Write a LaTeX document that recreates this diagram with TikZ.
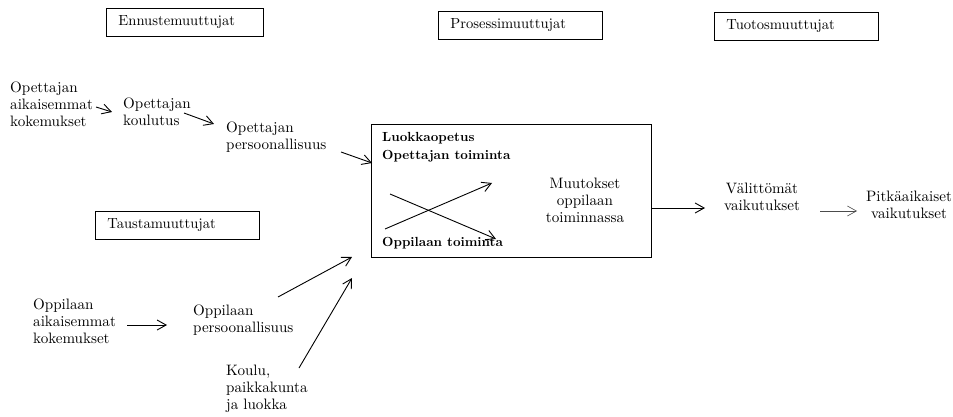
\documentclass[tikz,border=0pt]{standalone}
\usepackage{fontspec}
\setmainfont{lmroman10-regular.otf}[BoldFont=lmroman10-bold.otf]
\usetikzlibrary{arrows.meta}
\begin{document}
\begin{tikzpicture}[x=1pt,y=-1pt,
  txt/.style={inner sep=0pt, font=\fontsize{15.1}{17}\selectfont, align=left},
  ctxt/.style={txt, align=center},
  boldtxt/.style={inner sep=0pt, align=left, font=\fontsize{13.2}{18}\selectfont\bfseries},
  hdr/.style={draw, line width=0.9pt, minimum height=28pt, inner xsep=12pt, inner ysep=0pt,
    align=left, anchor=north west, font=\fontsize{14.6}{17}\selectfont},
  arr/.style={line width=0.9pt, -{Straight Barb[length=9pt,width=10pt]}},
  thinarr/.style={arr, line width=0.6pt, draw=black!70},
]
\useasboundingbox (0,0) rectangle (953,417);

% group headings
\node[hdr, text width=133pt] (ennuste) at (106,8) {Ennustemuuttujat};
\node[hdr, text width=140pt] (prosessi) at (438,11) {Prosessimuuttujat};
\node[hdr, text width=140pt] (tuotos) at (714,12) {Tuotosmuuttujat};
\node[hdr, text width=140pt] (tausta) at (95,211) {Taustamuuttujat};

% teacher chain
\node[txt, anchor=west] (opaik) at (10,104) {Opettajan\\aikaisemmat\\kokemukset};
\node[txt, anchor=west] (opkoul) at (123,112) {Opettajan\\koulutus};
\node[txt, anchor=west] (oppers) at (226,137) {Opettajan\\persoonallisuus};

% classroom process box
\node[draw, line width=0.9pt, minimum width=280pt, minimum height=133pt, inner sep=0pt] (proc) at (511,190.5) {};
\node[boldtxt, anchor=west] (luokka) at (382,147) {Luokkaopetus\\Opettajan toiminta};
\node[boldtxt, anchor=west] (opptoim) at (382,243) {Oppilaan toiminta};
\node[ctxt] (muutos) at (585,200) {Muutokset\\oppilaan\\toiminnassa};

% outcomes
\node[ctxt] (valit) at (762,197) {Välittömät\\vaikutukset};
\node[ctxt] (pitka) at (909,205) {Pitkäaikaiset\\vaikutukset};

% pupil background
\node[txt, anchor=west] (oppaik) at (33,321) {Oppilaan\\aikaisemmat\\kokemukset};
\node[txt, anchor=west] (opppers) at (193,320) {Oppilaan\\persoonallisuus};
\node[txt, anchor=west] (koulu) at (226,389) {Koulu,\\paikkakunta\\ja luokka};

% arrow end points
\coordinate (a1s) at (96,107);  \coordinate (a1e) at (112,112);
\coordinate (a2s) at (184,113); \coordinate (a2e) at (214,124);
\coordinate (a3s) at (341,152); \coordinate (a3e) at (372,163);
\coordinate (x1s) at (390,194); \coordinate (x1e) at (496,239);
\coordinate (x2s) at (385,229); \coordinate (x2e) at (492,183);
\coordinate (o1s) at (651,208); \coordinate (o1e) at (705,208);
\coordinate (o2s) at (820,211); \coordinate (o2e) at (857,211);
\coordinate (b1s) at (127,325); \coordinate (b1e) at (167,325);
\coordinate (b2s) at (278,297); \coordinate (b2e) at (352,257);
\coordinate (b3s) at (299,368); \coordinate (b3e) at (352,278);

\draw[arr] (a1s) -- (a1e);
\draw[arr] (a2s) -- (a2e);
\draw[arr] (a3s) -- (a3e);
\draw[arr] (x1s) -- (x1e);
\draw[arr] (x2s) -- (x2e);
\draw[arr] (o1s) -- (o1e);
\draw[thinarr] (o2s) -- (o2e);
\draw[arr] (b1s) -- (b1e);
\draw[arr] (b2s) -- (b2e);
\draw[arr] (b3s) -- (b3e);
\end{tikzpicture}
\end{document}
